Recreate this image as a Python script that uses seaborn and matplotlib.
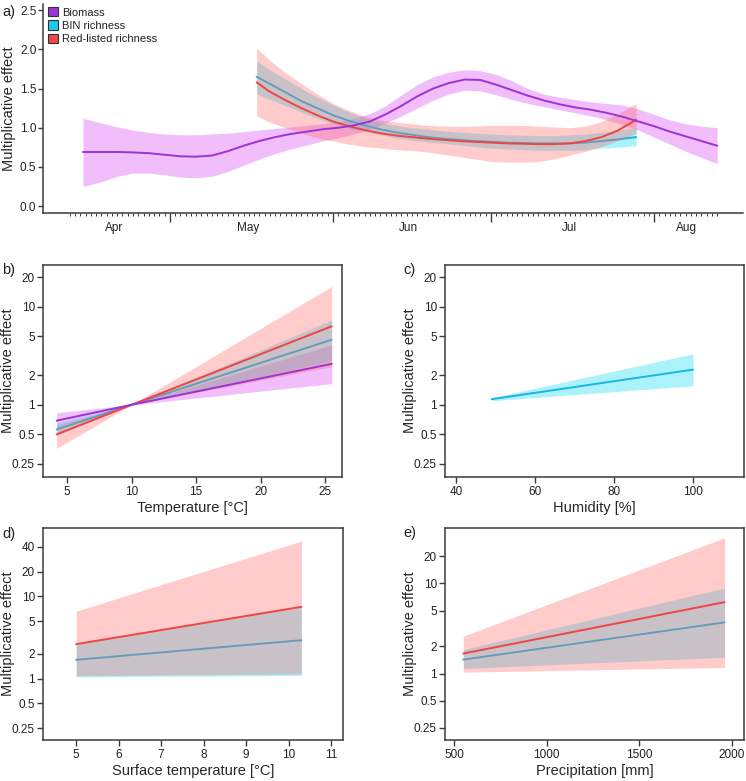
import matplotlib
matplotlib.use("Agg")
import matplotlib.pyplot as plt
from matplotlib.patches import Patch
from matplotlib.ticker import FixedLocator, NullLocator
import seaborn as sns
import pandas as pd

# ---------------- data ----------------
# a) seasonal effect, x = days since 1 May
bio_day = [-16.5, -13, -10, -7, -4, -1, 2, 5, 8, 11, 14, 17, 20, 23, 26, 29, 32, 35, 38, 41,
           44, 47, 50, 53, 56, 59, 62, 65, 68, 71, 74, 77, 80, 83, 86, 89, 92, 95, 98, 101, 104]
bio_fit = [0.69, 0.69, 0.69, 0.685, 0.675, 0.655, 0.635, 0.63, 0.645, 0.70, 0.77, 0.83,
           0.88, 0.92, 0.95, 0.98, 1.00, 1.03, 1.08, 1.17, 1.28, 1.40, 1.50, 1.57, 1.615,
           1.61, 1.55, 1.48, 1.41, 1.35, 1.30, 1.26, 1.23, 1.19, 1.14, 1.08, 1.02, 0.95,
           0.89, 0.83, 0.77]
bio_hi = [1.12, 1.06, 1.01, 0.97, 0.94, 0.92, 0.91, 0.91, 0.92, 0.93, 0.95, 0.97, 0.99,
          1.01, 1.03, 1.05, 1.08, 1.12, 1.18, 1.28, 1.42, 1.55, 1.65, 1.71, 1.74, 1.73,
          1.68, 1.60, 1.50, 1.43, 1.39, 1.36, 1.33, 1.31, 1.29, 1.24, 1.17, 1.10, 1.05,
          1.02, 1.00]
bio_lo = [0.25, 0.31, 0.38, 0.42, 0.42, 0.40, 0.37, 0.36, 0.38, 0.44, 0.52, 0.60, 0.67,
          0.73, 0.78, 0.83, 0.87, 0.92, 0.98, 1.06, 1.15, 1.25, 1.35, 1.43, 1.48, 1.47,
          1.42, 1.36, 1.31, 1.27, 1.23, 1.19, 1.15, 1.10, 1.04, 0.97, 0.88, 0.79, 0.70,
          0.62, 0.54]

rich_day = [16.5, 19, 22, 25, 28, 31, 34, 37, 40, 43, 46, 49, 52, 55, 58, 61, 64, 67, 70,
            73, 76, 79, 82, 85, 88.6]
bin_fit = [1.65, 1.56, 1.45, 1.34, 1.25, 1.16, 1.09, 1.03, 0.98, 0.94, 0.91, 0.88, 0.86,
           0.845, 0.83, 0.82, 0.81, 0.805, 0.80, 0.80, 0.80, 0.81, 0.83, 0.85, 0.88]
bin_hi = [1.85, 1.74, 1.62, 1.50, 1.39, 1.29, 1.20, 1.13, 1.07, 1.03, 1.00, 0.98, 0.96,
          0.945, 0.93, 0.92, 0.91, 0.905, 0.90, 0.90, 0.91, 0.92, 0.94, 0.97, 1.00]
bin_lo = [1.43, 1.36, 1.28, 1.20, 1.12, 1.05, 0.99, 0.95, 0.91, 0.87, 0.84, 0.82, 0.80,
          0.78, 0.76, 0.74, 0.73, 0.72, 0.71, 0.71, 0.71, 0.72, 0.74, 0.75, 0.77]
red_fit = [1.58, 1.46, 1.35, 1.25, 1.16, 1.08, 1.02, 0.97, 0.93, 0.90, 0.88, 0.86, 0.845,
           0.83, 0.82, 0.81, 0.80, 0.795, 0.79, 0.79, 0.80, 0.83, 0.88, 0.96, 1.10]
red_hi = [2.02, 1.86, 1.70, 1.56, 1.43, 1.31, 1.22, 1.15, 1.10, 1.07, 1.05, 1.03, 1.02,
          1.02, 1.02, 1.03, 1.03, 1.03, 1.02, 1.01, 1.00, 1.02, 1.08, 1.17, 1.31]
red_lo = [1.15, 1.07, 1.00, 0.93, 0.87, 0.83, 0.79, 0.76, 0.74, 0.72, 0.71, 0.69, 0.66,
          0.63, 0.60, 0.57, 0.56, 0.56, 0.57, 0.60, 0.65, 0.70, 0.76, 0.83, 0.93]

month_names = ["Apr", "May", "Jun", "Jul", "Aug"]
month_starts = [0, 31, 61, 92]
month_mids = [-10.5, 14.8, 45.4, 76, 98.1]

# b) temperature
temp_x = [4.2, 10, 25.5]
temp_bio = ([0.69, 1, 2.61], [0.58, 1, 1.64], [0.83, 1, 4.08])
temp_bin = ([0.56, 1, 4.6], [0.49, 1, 2.8], [0.65, 1, 7.3])
temp_red = ([0.50, 1, 6.3], [0.36, 1, 2.45], [0.62, 1, 16.0])

# c) humidity
hum_x = [49, 100]
hum_bin = ([1.14, 2.28], [1.10, 1.56], [1.18, 3.3])

# d) surface temperature
surf_x = [5, 10.3]
surf_bin = ([1.69, 2.93], [1.05, 1.09], [2.6, 7.4])
surf_red = ([2.62, 7.45], [1.08, 1.14], [6.6, 47.0])

# e) precipitation
prec_x = [550, 1960]
prec_bin = ([1.43, 3.7], [1.14, 1.52], [1.85, 8.9])
prec_red = ([1.67, 6.2], [1.04, 1.17], [2.6, 32.0])

labels = ["Biomass", "BIN richness", "Red-listed richness"]

# ---------------- style ----------------
sns.set_theme(style="ticks")
plt.rcParams["font.family"] = ["Liberation Sans", "DejaVu Sans"]
plt.rcParams["axes.edgecolor"] = "#3a3a3a"
plt.rcParams["xtick.color"] = "#3a3a3a"
plt.rcParams["ytick.color"] = "#3a3a3a"
plt.rcParams["text.color"] = "#222222"
plt.rcParams["xtick.labelcolor"] = "#222222"
plt.rcParams["ytick.labelcolor"] = "#222222"

C_BIO, F_BIO = "#9b33d6", "#e05cf5"
C_BIN, F_BIN = "#1ab4e6", "#2ee0f5"
C_RED, F_RED = "#f04444", "#ff6b6b"
SW_BIO, SW_BIN, SW_RED = "#9b37d8", "#1ec8f0", "#f04848"
LW = 1.4
TICK_FS = 8.5
LAB_FS = 10.5

fig = plt.figure(figsize=(7.46, 7.81), dpi=100)
W, H = 746.0, 781.0


def axes_px(left, top, right, bottom):
    return fig.add_axes([left / W, 1 - bottom / H, (right - left) / W, (bottom - top) / H])


def band(ax, x, lo, hi, color, alpha, z):
    ax.fill_between(x, lo, hi, color=color, alpha=alpha, lw=0, zorder=z)


def line(ax, x, y, color, z):
    sns.lineplot(x=x, y=y, ax=ax, color=color, lw=LW, sort=False, zorder=z)


# ---------------- panel a ----------------
ax = axes_px(43, 4, 743, 213)
band(ax, bio_day, bio_lo, bio_hi, F_BIO, 0.4, 1)
band(ax, rich_day, bin_lo, bin_hi, F_BIN, 0.4, 2)
line(ax, rich_day, bin_fit, C_BIN, 3)
band(ax, rich_day, red_lo, red_hi, F_RED, 0.35, 4)
line(ax, rich_day, red_fit, C_RED, 5)
line(ax, bio_day, bio_fit, C_BIO, 6)

ax.set_xlim(-24.1, 108.9)
ax.set_ylim(-0.089, 2.58)
ax.yaxis.set_major_locator(FixedLocator([0, 0.5, 1.0, 1.5, 2.0, 2.5]))
ax.set_yticklabels(["0.0", "0.5", "1.0", "1.5", "2.0", "2.5"])
ax.xaxis.set_major_locator(FixedLocator(month_starts))
ax.set_xticklabels([])
days = [d for d in range(-19, 105) if d not in month_starts]
ax.xaxis.set_minor_locator(FixedLocator(days))
ax.tick_params(axis="x", which="major", length=6.5, width=1.0)
ax.tick_params(axis="x", which="minor", length=2.2, width=0.7)
ax.tick_params(axis="y", length=3.8, width=1.0, pad=1, labelsize=TICK_FS)
for m, xm in zip(month_names, month_mids):
    ax.text(xm, -0.072, m, transform=ax.get_xaxis_transform(), ha="center",
            va="center", fontsize=TICK_FS)
sns.despine(ax=ax)
for s in ["left", "bottom"]:
    ax.spines[s].set_linewidth(1.1)
ax.set_xlabel("")
ax.set_ylabel("Multiplicative effect", fontsize=LAB_FS)
ax.yaxis.set_label_coords(-0.0386, 0.5)
handles = [Patch(facecolor=c, edgecolor="#333333", lw=0.8) for c in (SW_BIO, SW_BIN, SW_RED)]
ax.legend(handles, labels, loc="upper left", bbox_to_anchor=(0.007, 0.985),
          frameon=False, fontsize=8, handlelength=0.9, handleheight=0.9,
          handletextpad=0.4, labelspacing=0.25, borderpad=0, borderaxespad=0)


# ---------------- lower panels ----------------
def log_panel(ax, xlim, ylim, xticks, yticks, xlabel):
    ax.set_yscale("log")
    ax.set_xlim(*xlim)
    ax.set_ylim(*ylim)
    ax.xaxis.set_major_locator(FixedLocator(xticks))
    ax.set_xticklabels([str(t) for t in xticks])
    ax.yaxis.set_major_locator(FixedLocator(yticks))
    ax.yaxis.set_minor_locator(NullLocator())
    ax.set_yticklabels([("%g" % t) for t in yticks])
    ax.tick_params(length=4.0, width=1.0, labelsize=TICK_FS)
    ax.tick_params(axis="x", pad=2.5)
    ax.tick_params(axis="y", pad=1.8)
    for s in ax.spines.values():
        s.set_linewidth(1.1)
    ax.set_xlabel(xlabel, fontsize=LAB_FS)
    ax.set_ylabel("Multiplicative effect", fontsize=LAB_FS)
    ax.xaxis.set_label_coords(0.5, -0.115)
    ax.yaxis.set_label_coords(-0.093, 0.5)


yt = [0.25, 0.5, 1, 2, 5, 10, 20]

# b) temperature
ax = axes_px(43, 265, 342, 477)
band(ax, temp_x, temp_bio[1], temp_bio[2], F_BIO, 0.4, 1)
band(ax, temp_x, temp_bin[1], temp_bin[2], F_BIN, 0.4, 2)
line(ax, temp_x, temp_bin[0], C_BIN, 3)
band(ax, temp_x, temp_red[1], temp_red[2], F_RED, 0.35, 4)
line(ax, temp_x, temp_red[0], C_RED, 5)
line(ax, temp_x, temp_bio[0], C_BIO, 6)
log_panel(ax, (3.14, 26.3), (0.184, 26.5), [5, 10, 15, 20, 25], yt, "Temperature [°C]")

# c) humidity
ax = axes_px(445, 265, 744, 477)
band(ax, hum_x, hum_bin[1], hum_bin[2], F_BIN, 0.4, 2)
line(ax, hum_x, hum_bin[0], C_BIN, 3)
log_panel(ax, (37.2, 112.9), (0.184, 26.5), [40, 60, 80, 100], yt, "Humidity [%]")

# d) surface temperature
ax = axes_px(43, 528, 343, 740)
band(ax, surf_x, surf_bin[1], surf_bin[2], F_BIN, 0.4, 2)
line(ax, surf_x, surf_bin[0], C_BIN, 3)
band(ax, surf_x, surf_red[1], surf_red[2], F_RED, 0.35, 4)
line(ax, surf_x, surf_red[0], C_RED, 5)
log_panel(ax, (4.22, 11.28), (0.179, 67.8), [5, 6, 7, 8, 9, 10, 11], yt + [40],
          "Surface temperature [°C]")

# e) precipitation
ax = axes_px(445, 528, 744, 740)
band(ax, prec_x, prec_bin[1], prec_bin[2], F_BIN, 0.4, 2)
line(ax, prec_x, prec_bin[0], C_BIN, 3)
band(ax, prec_x, prec_red[1], prec_red[2], F_RED, 0.35, 4)
line(ax, prec_x, prec_red[0], C_RED, 5)
log_panel(ax, (451.4, 2064.8), (0.184, 41.1), [500, 1000, 1500, 2000], yt, "Precipitation [mm]")

# panel letters
for txt, px, py in [("a)", 2, 12), ("b)", 2, 270), ("c)", 403, 270), ("d)", 2, 534), ("e)", 403, 533)]:
    fig.text(px / W, 1 - py / H, txt, fontsize=LAB_FS, ha="left", va="center")

fig.savefig("out.png", dpi=100)
